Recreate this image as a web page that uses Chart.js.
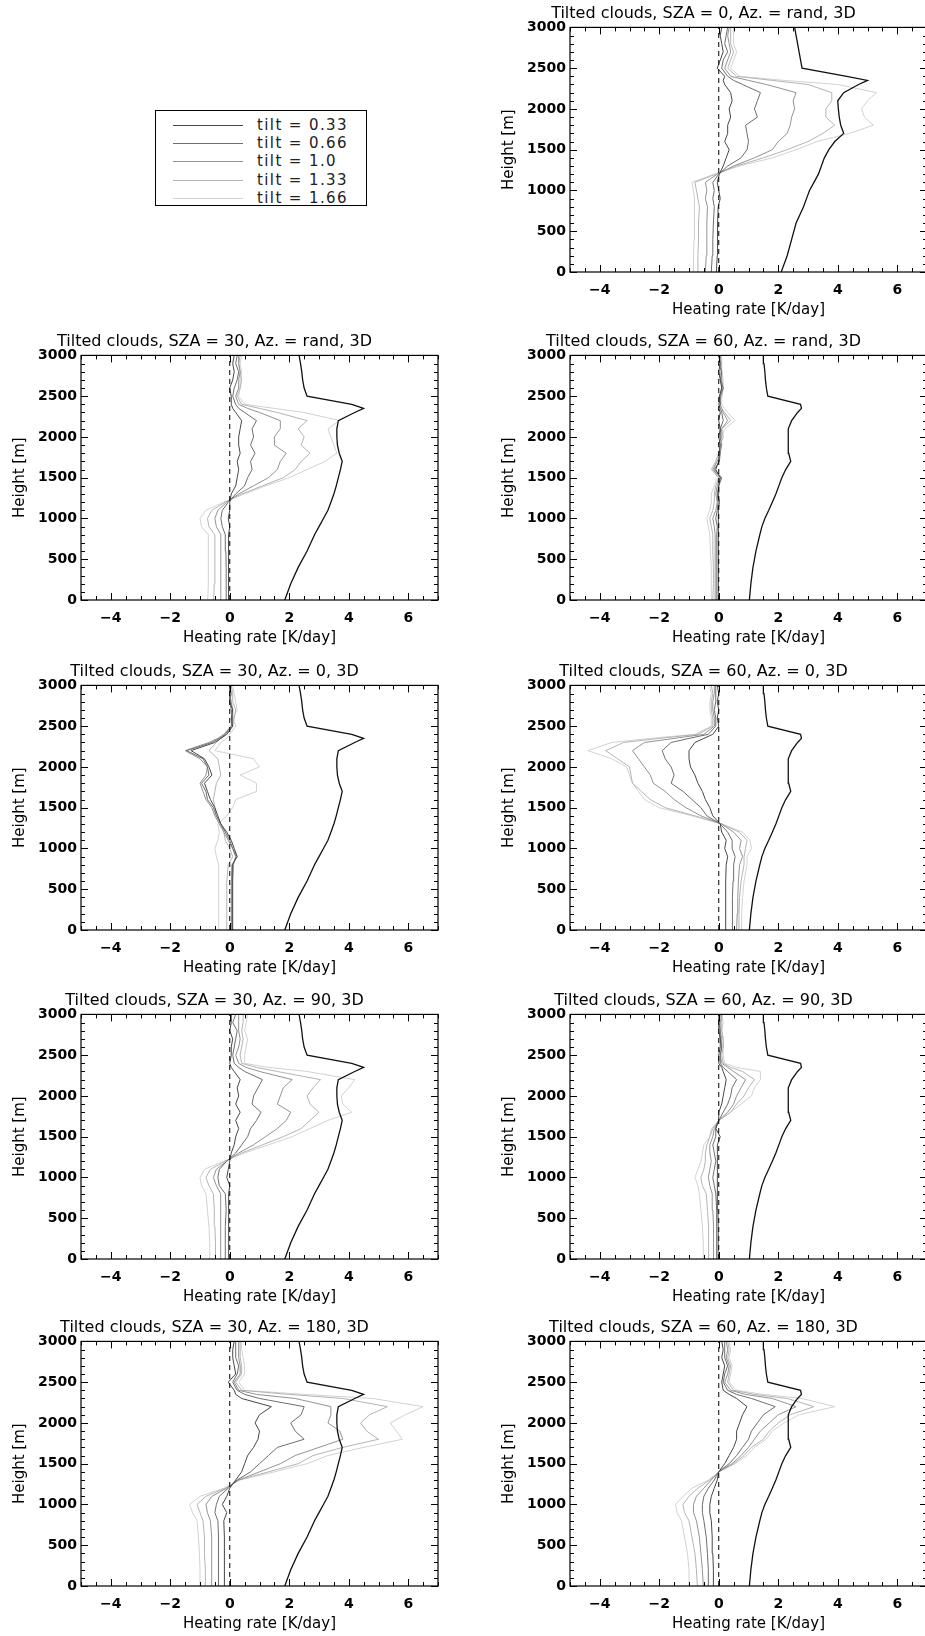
<!DOCTYPE html>
<html>
<head>
<meta charset="utf-8">
<script src="https://cdn.jsdelivr.net/npm/chart.js@4.4.1/dist/chart.umd.min.js"></script>
<style>
  html, body { margin: 0; padding: 0; background: #fff; overflow: hidden; }
  body { width: 925px; height: 1636px; position: relative; }
  canvas { position: absolute; }
  #legend { position: absolute; left: 155px; top: 110px; width: 212px; height: 96px;
            border: 1px solid #000; box-sizing: border-box; font-family: "DejaVu Sans"; }
  .row { position: absolute; left: 0; height: 18px; width: 100%; }
  .row span.line { position: absolute; left: 17px; width: 70px; top: 9px; height: 0; }
  .row span.txt { position: absolute; left: 101px; top: 0; font-size: 15px; font-weight: normal;
                  letter-spacing: 1.4px; line-height: 18px; white-space: pre; color: #222; }
</style>
</head>
<body>
<div id="legend"></div>
<script>
// heights of the model layers [m]
var heights = [0, 200, 400, 600, 800, 900, 1000, 1100, 1200, 1300, 1400, 1500, 1600, 1700,
               1800, 1900, 2000, 2100, 2200, 2300, 2350, 2400, 2500, 2600, 2700, 2800, 2900, 3000];

var xTickValues = [-4, -2, 0, 2, 4, 6];
var yTickValues = [0, 500, 1000, 1500, 2000, 2500, 3000];

var tiltLabels = ['tilt = 0.33', 'tilt = 0.66', 'tilt = 1.0', 'tilt = 1.33', 'tilt = 1.66'];

// black reference profiles (one per solar zenith angle)
var refSza0  = [2.1, 2.3, 2.45, 2.6, 2.85, 2.95, 3.05, 3.2, 3.35, 3.45, 3.55, 3.7, 3.9, 4.2, 4.1, 4.05, 4.02, 4.0, 4.2, 4.7, 5.0, 4.3, 2.8, 2.75, 2.7, 2.65, 2.6, 2.55];
var refSza30 = [1.85, 2.05, 2.3, 2.6, 2.85, 3.0, 3.15, 3.3, 3.4, 3.5, 3.58, 3.65, 3.72, 3.78, 3.68, 3.62, 3.6, 3.6, 3.65, 4.2, 4.5, 4.1, 2.6, 2.5, 2.45, 2.42, 2.38, 2.33];
var refSza60 = [1.03, 1.08, 1.15, 1.25, 1.38, 1.45, 1.55, 1.68, 1.8, 1.92, 2.02, 2.12, 2.25, 2.42, 2.35, 2.33, 2.33, 2.35, 2.45, 2.65, 2.78, 2.75, 1.65, 1.6, 1.57, 1.55, 1.52, 1.5];

// tilted cloud profiles, one row per tilt (0.33, 0.66, 1.0, 1.33, 1.66)
var sza0Rand = [
  [-0.08,-0.05,-0.05,-0.03,-0.02,0.05,0.0,-0.05,0.02,0.15,0.25,0.35,0.2,0.3,0.3,0.4,0.35,0.45,0.4,0.2,0.15,0.2,-0.05,0.05,0.15,0.1,0.05,0.1],
  [-0.25,-0.22,-0.2,-0.18,-0.15,-0.2,-0.15,-0.2,0.0,0.3,0.75,0.95,1.0,0.95,0.9,1.3,1.2,1.3,1.4,0.8,0.5,0.3,0.1,0.15,0.3,0.2,0.25,0.3],
  [-0.45,-0.42,-0.4,-0.4,-0.38,-0.45,-0.4,-0.45,-0.05,0.5,1.2,1.8,2.0,2.3,2.4,2.45,2.55,2.5,2.6,1.6,1.0,0.4,0.2,0.3,0.4,0.35,0.3,0.35],
  [-0.72,-0.7,-0.68,-0.68,-0.65,-0.7,-0.75,-0.8,-0.1,0.6,1.5,2.3,3.0,3.5,3.9,3.6,3.6,3.8,3.8,3.0,1.8,0.6,0.3,0.4,0.5,0.4,0.4,0.4],
  [-0.85,-0.85,-0.83,-0.83,-0.82,-0.8,-0.85,-0.9,-0.15,0.7,1.8,2.6,3.3,4.4,5.2,4.9,4.8,5.0,5.3,4.0,2.2,0.7,0.4,0.5,0.6,0.5,0.5,0.5]
];
var sza30Rand = [
  [-0.03,-0.03,-0.03,-0.05,-0.05,0.0,-0.05,0.0,0.0,0.05,0.2,0.25,0.3,0.25,0.35,0.3,0.3,0.35,0.4,0.2,0.1,0.05,0.05,0.0,0.1,0.15,0.1,0.15],
  [-0.11,-0.12,-0.12,-0.13,-0.15,-0.25,-0.3,-0.25,-0.05,0.2,0.5,0.6,0.75,0.7,0.85,0.7,0.8,0.75,0.9,0.5,0.3,0.2,0.1,0.15,0.25,0.3,0.2,0.25],
  [-0.31,-0.3,-0.3,-0.3,-0.3,-0.45,-0.5,-0.4,-0.1,0.3,0.8,1.3,1.6,1.7,1.9,1.5,1.5,1.7,1.7,1.0,0.6,0.3,0.2,0.3,0.3,0.35,0.3,0.3],
  [-0.54,-0.52,-0.5,-0.5,-0.5,-0.7,-0.75,-0.6,-0.15,0.4,1.1,1.8,2.2,2.4,2.7,2.4,2.5,2.3,2.6,1.6,1.0,0.4,0.25,0.35,0.4,0.35,0.3,0.35],
  [-0.74,-0.72,-0.72,-0.72,-0.72,-0.95,-1.0,-0.8,-0.2,0.5,1.2,2.0,2.6,3.2,3.6,3.5,3.4,3.3,3.7,2.5,1.5,0.5,0.3,0.35,0.35,0.4,0.35,0.4]
];
var sza60Rand = [
  [-0.02,-0.02,-0.02,-0.02,-0.02,0.0,-0.02,0.0,0.02,-0.02,0.0,0.05,-0.1,0.0,0.02,0.05,0.0,0.05,0.0,0.05,0.0,0.05,0.02,0.1,0.05,0.0,0.05,0.0],
  [-0.07,-0.07,-0.06,-0.06,-0.07,-0.05,-0.1,-0.05,-0.02,-0.05,0.0,0.1,-0.15,0.02,0.05,0.0,0.08,0.05,0.15,0.1,0.05,0.0,0.05,0.15,0.05,0.1,0.0,0.05],
  [-0.12,-0.12,-0.12,-0.12,-0.12,-0.15,-0.2,-0.1,-0.05,-0.1,-0.05,0.05,-0.2,-0.05,0.05,0.1,0.05,0.1,0.3,0.15,0.1,0.05,0.05,0.1,0.1,0.1,0.05,0.05],
  [-0.2,-0.18,-0.18,-0.2,-0.2,-0.25,-0.3,-0.2,-0.15,-0.15,-0.1,0.0,-0.25,-0.1,0.0,0.05,0.15,0.1,0.4,0.2,0.1,0.0,0.1,0.15,0.1,0.05,0.1,0.05],
  [-0.25,-0.25,-0.25,-0.28,-0.3,-0.35,-0.4,-0.3,-0.25,-0.25,-0.15,-0.05,-0.15,-0.1,0.0,0.1,0.1,0.2,0.55,0.3,0.2,0.1,0.1,0.15,0.15,0.1,0.1,0.1]
];
var sza30Az0 = [
  [0.08,0.08,0.08,0.08,0.1,0.25,0.15,0.05,-0.1,-0.3,-0.4,-0.5,-0.65,-0.75,-0.85,-0.6,-0.7,-0.85,-1.3,-0.5,-0.3,-0.1,0.1,0.05,0.1,0.0,0.0,0.0],
  [0.1,0.1,0.1,0.1,0.12,0.2,0.1,0.0,-0.15,-0.3,-0.45,-0.55,-0.75,-0.8,-0.95,-0.7,-0.75,-0.9,-1.45,-0.6,-0.35,-0.15,0.05,0.1,0.05,0.0,0.05,0.0],
  [0.05,0.05,0.06,0.05,0.08,0.25,0.1,-0.05,-0.2,-0.35,-0.5,-0.6,-0.8,-0.9,-1.0,-0.8,-0.75,-1.0,-1.5,-0.7,-0.4,-0.2,0.05,0.1,0.1,0.05,0.0,0.05],
  [-0.1,-0.1,-0.1,-0.1,-0.05,0.1,0.0,-0.15,-0.2,-0.3,-0.45,-0.5,-0.55,-0.5,-0.45,-0.3,-0.35,-0.4,-0.7,-0.45,-0.3,-0.1,0.1,0.15,0.2,0.1,0.1,0.05],
  [-0.37,-0.37,-0.37,-0.37,-0.37,-0.45,-0.5,-0.4,-0.35,-0.4,-0.1,0.1,0.2,0.9,0.9,0.35,1.0,0.8,-0.5,-0.3,-0.1,0.0,0.2,0.1,0.25,0.2,0.15,0.1]
];
var sza60Az0 = [
  [0.22,0.23,0.23,0.24,0.25,0.3,0.2,0.25,0.1,0.05,-0.2,-0.3,-0.45,-0.55,-0.7,-0.8,-0.95,-1.0,-1.0,-0.8,-0.5,-0.2,0.0,-0.05,0.0,-0.05,0.0,-0.05],
  [0.45,0.45,0.47,0.48,0.5,0.55,0.45,0.45,0.3,0.05,-0.4,-0.6,-0.9,-1.2,-1.6,-1.5,-1.6,-1.8,-1.9,-1.6,-1.0,-0.35,-0.1,-0.1,-0.15,-0.1,-0.1,-0.1],
  [0.6,0.62,0.64,0.66,0.7,0.8,0.7,0.75,0.5,0.1,-0.6,-1.1,-1.5,-1.8,-2.2,-2.3,-2.5,-2.7,-2.9,-2.5,-1.5,-0.5,-0.15,-0.15,-0.2,-0.2,-0.15,-0.15],
  [0.67,0.68,0.7,0.75,0.85,0.85,0.9,0.95,0.7,0.1,-0.8,-1.8,-2.3,-2.6,-2.9,-2.95,-3.0,-3.4,-3.8,-3.2,-2.0,-0.7,-0.2,-0.2,-0.25,-0.25,-0.2,-0.25],
  [0.75,0.77,0.8,0.85,0.95,0.95,1.1,1.05,0.8,0.1,-0.9,-2.0,-2.5,-2.7,-2.9,-3.0,-3.1,-3.6,-4.4,-3.6,-2.3,-0.8,-0.25,-0.25,-0.3,-0.3,-0.25,-0.3]
];
var sza30Az90 = [
  [-0.03,-0.03,-0.03,-0.04,-0.05,0.0,-0.1,-0.05,0.0,0.05,0.15,0.2,0.3,0.2,0.35,0.2,0.3,0.25,0.35,0.15,0.05,0.0,0.05,0.05,0.1,0.0,0.05,0.05],
  [-0.15,-0.15,-0.15,-0.12,-0.15,-0.35,-0.4,-0.35,-0.1,0.2,0.4,0.6,0.7,0.9,1.05,0.75,0.8,0.95,1.1,0.5,0.3,0.15,0.1,0.15,0.2,0.25,0.1,0.2],
  [-0.31,-0.3,-0.3,-0.3,-0.32,-0.45,-0.55,-0.45,-0.1,0.3,0.8,1.2,1.6,1.9,2.05,1.6,1.7,1.8,2.1,1.0,0.55,0.3,0.2,0.3,0.35,0.3,0.3,0.3],
  [-0.48,-0.48,-0.5,-0.52,-0.55,-0.7,-0.8,-0.65,-0.15,0.4,1.1,1.8,2.4,2.7,3.0,2.7,2.6,2.8,3.05,1.6,0.9,0.4,0.35,0.4,0.45,0.4,0.45,0.45],
  [-0.67,-0.67,-0.7,-0.75,-0.8,-0.95,-1.0,-0.85,-0.2,0.5,1.3,2.1,2.7,3.3,4.1,3.8,3.75,4.0,4.2,2.6,1.3,0.5,0.5,0.55,0.6,0.5,0.55,0.6]
];
var sza60Az90 = [
  [-0.02,-0.02,-0.02,-0.03,-0.03,-0.05,-0.05,-0.05,-0.05,-0.05,-0.05,0.05,-0.1,0.0,0.0,0.1,0.15,0.2,0.25,0.15,0.1,0.0,0.0,0.05,0.05,0.0,0.0,0.0],
  [-0.06,-0.06,-0.07,-0.08,-0.1,-0.15,-0.2,-0.15,-0.1,-0.15,-0.2,-0.1,-0.1,0.0,0.15,0.3,0.4,0.45,0.6,0.3,0.15,0.05,0.05,0.1,0.05,0.05,0.0,0.05],
  [-0.17,-0.17,-0.18,-0.2,-0.22,-0.3,-0.35,-0.3,-0.25,-0.3,-0.3,-0.2,-0.15,0.0,0.3,0.5,0.6,0.75,0.9,0.5,0.3,0.1,0.05,0.1,0.1,0.05,0.05,0.1],
  [-0.33,-0.33,-0.35,-0.38,-0.42,-0.55,-0.6,-0.5,-0.45,-0.45,-0.4,-0.3,-0.2,0.0,0.4,0.6,0.85,1.0,1.2,0.8,0.4,0.15,0.1,0.15,0.15,0.1,0.1,0.1],
  [-0.52,-0.52,-0.55,-0.6,-0.65,-0.7,-0.8,-0.7,-0.6,-0.55,-0.5,-0.3,-0.25,0.0,0.4,0.75,1.1,1.2,1.4,1.4,0.6,0.2,0.15,0.15,0.15,0.1,0.15,0.1]
];
var sza30Az180 = [
  [-0.18,-0.18,-0.18,-0.18,-0.2,-0.1,-0.25,-0.1,0.0,0.2,0.4,0.5,0.6,0.8,0.95,1.0,0.85,1.0,1.4,0.4,0.2,0.15,-0.05,0.2,0.15,0.1,0.1,0.15],
  [-0.37,-0.37,-0.38,-0.38,-0.4,-0.5,-0.45,-0.35,-0.05,0.25,0.7,1.0,1.3,1.6,2.5,2.2,2.05,2.4,2.5,1.0,0.5,0.25,0.1,0.25,0.3,0.2,0.2,0.2],
  [-0.6,-0.6,-0.6,-0.62,-0.65,-0.75,-0.8,-0.6,-0.1,0.3,1.0,1.7,2.2,3.0,3.8,3.7,3.3,3.4,3.4,2.2,0.9,0.3,0.15,0.35,0.35,0.3,0.3,0.3],
  [-0.82,-0.82,-0.85,-0.85,-0.9,-1.0,-1.1,-0.8,-0.15,0.3,1.3,2.3,2.8,3.8,5.0,4.6,4.4,4.7,5.3,3.8,2.0,0.4,0.2,0.4,0.4,0.35,0.35,0.35],
  [-1.0,-1.0,-1.02,-1.05,-1.1,-1.25,-1.35,-1.0,-0.2,0.35,1.5,2.6,3.3,4.5,5.8,5.6,5.4,5.9,6.5,4.8,2.5,0.5,0.3,0.5,0.5,0.45,0.4,0.4]
];
var sza60Az180 = [
  [-0.17,-0.18,-0.2,-0.22,-0.25,-0.3,-0.3,-0.25,-0.15,-0.05,0.0,0.2,0.35,0.5,0.6,0.6,0.7,0.8,0.95,0.6,0.35,0.15,0.1,0.15,0.2,0.1,0.15,0.1],
  [-0.33,-0.35,-0.38,-0.42,-0.5,-0.55,-0.55,-0.5,-0.35,-0.15,0.0,0.35,0.6,0.8,1.0,1.1,1.3,1.5,1.9,1.1,0.6,0.3,0.15,0.2,0.3,0.2,0.2,0.2],
  [-0.52,-0.55,-0.6,-0.65,-0.75,-0.85,-0.85,-0.75,-0.5,-0.25,0.0,0.45,0.75,1.0,1.2,1.4,1.7,2.0,2.6,1.8,0.9,0.4,0.2,0.3,0.35,0.25,0.3,0.25],
  [-0.72,-0.75,-0.8,-0.9,-1.0,-1.15,-1.2,-1.0,-0.7,-0.3,0.0,0.5,0.85,1.1,1.5,1.7,2.0,2.4,3.2,2.3,1.2,0.5,0.3,0.35,0.4,0.3,0.35,0.3],
  [-0.97,-1.0,-1.05,-1.15,-1.25,-1.4,-1.45,-1.2,-0.9,-0.35,0.0,0.55,0.95,1.2,1.6,1.8,2.2,2.7,3.9,2.8,1.5,0.6,0.35,0.4,0.45,0.35,0.4,0.35]
];

var panels = [
  { title: 'Tilted clouds, SZA = 0, Az. = rand, 3D',   ref: refSza0,  tilts: sza0Rand,   col: 1, row: 0 },
  { title: 'Tilted clouds, SZA = 30, Az. = rand, 3D',  ref: refSza30, tilts: sza30Rand,  col: 0, row: 1 },
  { title: 'Tilted clouds, SZA = 60, Az. = rand, 3D',  ref: refSza60, tilts: sza60Rand,  col: 1, row: 1 },
  { title: 'Tilted clouds, SZA = 30, Az. = 0, 3D',     ref: refSza30, tilts: sza30Az0,   col: 0, row: 2 },
  { title: 'Tilted clouds, SZA = 60, Az. = 0, 3D',     ref: refSza60, tilts: sza60Az0,   col: 1, row: 2 },
  { title: 'Tilted clouds, SZA = 30, Az. = 90, 3D',    ref: refSza30, tilts: sza30Az90,  col: 0, row: 3 },
  { title: 'Tilted clouds, SZA = 60, Az. = 90, 3D',    ref: refSza60, tilts: sza60Az90,  col: 1, row: 3 },
  { title: 'Tilted clouds, SZA = 30, Az. = 180, 3D',   ref: refSza30, tilts: sza30Az180, col: 0, row: 4 },
  { title: 'Tilted clouds, SZA = 60, Az. = 180, 3D',   ref: refSza60, tilts: sza60Az180, col: 1, row: 4 }
];

// layout / style
var colLeft = [-9, 480];
var rowTop = [28, 356, 686, 1015, 1342];
var CANVAS_W = 460, CANVAS_H = 328;
var FONT = '"DejaVu Sans", sans-serif';
var tiltColors = ['#474747', '#6e6e6e', '#939393', '#b4b4b4', '#d2d2d2'];

// IDL style frame: box + inward ticks on all four sides
var idlFrame = {
  id: 'idlFrame',
  afterDatasetsDraw: function(chart) {
    var ctx = chart.ctx, a = chart.chartArea, x = chart.scales.x, y = chart.scales.y;
    ctx.save();
    ctx.strokeStyle = '#000';
    ctx.lineWidth = 1.2;
    ctx.strokeRect(a.left, a.top, a.right - a.left, a.bottom - a.top);
    ctx.lineWidth = 1;
    ctx.beginPath();
    for (var v = x.min; v <= x.max + 1e-9; v += 0.5) {
      var px = Math.round(x.getPixelForValue(v)) + 0.5;
      var len = (Math.abs(v % 2) < 1e-9) ? 7 : 4;
      ctx.moveTo(px, a.bottom); ctx.lineTo(px, a.bottom - len);
      ctx.moveTo(px, a.top); ctx.lineTo(px, a.top + len);
    }
    for (var h = y.min; h <= y.max; h += 100) {
      var py = Math.round(y.getPixelForValue(h)) + 0.5;
      var l2 = (h % 500 === 0) ? 7 : 4;
      ctx.moveTo(a.left, py); ctx.lineTo(a.left + l2, py);
      ctx.moveTo(a.right, py); ctx.lineTo(a.right - l2, py);
    }
    ctx.stroke();
    ctx.restore();
  }
};

function toPoints(vals) {
  return heights.map(function(h, j) { return { x: vals[j], y: h }; });
}

function makePanel(p) {
  var canvas = document.createElement('canvas');
  canvas.width = CANVAS_W;
  canvas.height = CANVAS_H;
  canvas.style.left = colLeft[p.col] + 'px';
  canvas.style.top = (rowTop[p.row] - 28) + 'px';
  document.body.appendChild(canvas);

  var datasets = [];
  // dashed zero line
  datasets.push({ data: [{ x: 0, y: 0 }, { x: 0, y: 3000 }], borderColor: '#000', borderWidth: 1, borderDash: [5, 4] });
  // black reference profile
  datasets.push({ data: toPoints(p.ref), borderColor: '#111', borderWidth: 1.3 });
  p.tilts.forEach(function(vals, k) {
    datasets.push({ label: tiltLabels[k], data: toPoints(vals), borderColor: tiltColors[k], borderWidth: 1 });
  });

  var tickFont = { family: FONT, size: 14, weight: 'bold' };

  new Chart(canvas, {
    type: 'line',
    data: { datasets: datasets },
    plugins: [idlFrame],
    options: {
      responsive: false,
      animation: false,
      events: [],
      layout: { padding: { top: 1, right: CANVAS_W - 447, bottom: 0, left: 0 } },
      elements: { point: { radius: 0 }, line: { tension: 0 } },
      plugins: {
        legend: { display: false },
        tooltip: { enabled: false },
        title: { display: true, text: p.title, color: '#000',
                 font: { family: FONT, size: 16, weight: 'normal', lineHeight: 1.15 }, padding: { top: 4, bottom: 4 } }
      },
      scales: {
        x: {
          type: 'linear', min: -5, max: 7,
          afterFit: function(s) { s.height = 56; },
          afterBuildTicks: function(s) { s.ticks = xTickValues.map(function(v) { return { value: v }; }); },
          grid: { display: false, drawTicks: false },
          border: { display: false },
          ticks: { padding: 10, color: '#000', font: tickFont,
                   callback: function(v) { return String(v).replace('-', '\u2212'); } },
          title: { display: true, text: 'Heating rate [K/day]', color: '#000',
                   font: { family: FONT, size: 15 }, padding: { top: 0, bottom: 9 } }
        },
        y: {
          type: 'linear', min: 0, max: 3000,
          afterFit: function(s) { s.width = 90; },
          afterBuildTicks: function(s) { s.ticks = yTickValues.map(function(v) { return { value: v }; }); },
          grid: { display: false, drawTicks: false },
          border: { display: false },
          ticks: { padding: 4, color: '#000', font: tickFont,
                   callback: function(v) { return String(v); } },
          title: { display: true, text: 'Height [m]', color: '#000',
                   font: { family: FONT, size: 15 }, padding: { top: 20, bottom: 0 } }
        }
      }
    }
  });
}

panels.forEach(makePanel);

// legend box in the empty top-left slot
var legend = document.getElementById('legend');
tiltLabels.forEach(function(lbl, k) {
  var row = document.createElement('div');
  row.className = 'row';
  row.style.top = (5 + k * 18.2) + 'px';
  var line = document.createElement('span');
  line.className = 'line';
  line.style.borderTop = '1.5px solid ' + tiltColors[k];
  var txt = document.createElement('span');
  txt.className = 'txt';
  txt.textContent = lbl;
  row.appendChild(line);
  row.appendChild(txt);
  legend.appendChild(row);
});
</script>
</body>
</html>
